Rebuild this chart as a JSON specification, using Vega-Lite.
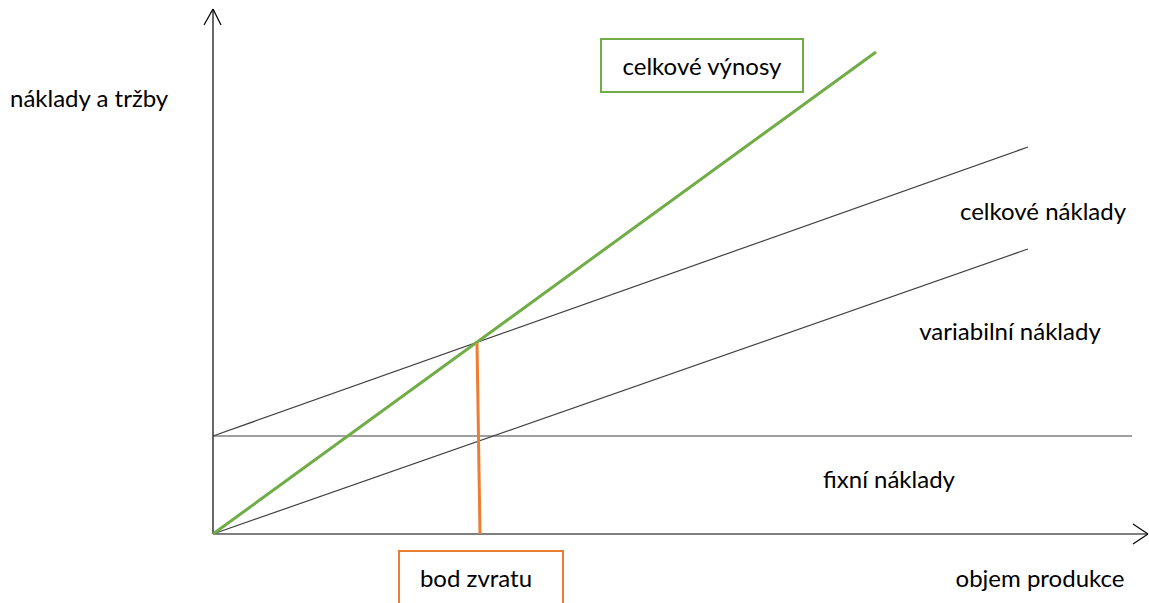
{
  "$schema": "https://vega.github.io/schema/vega-lite/v6.json",
  "width": 1149,
  "height": 603,
  "padding": 0,
  "autosize": {"type": "fit", "contains": "padding"},
  "background": "white",
  "config": {"view": {"stroke": null}},
  "datasets": {
    "segments": [
      {"kind": "axis", "x": 0, "y": 0, "x2": 0, "y2": 525},
      {"kind": "axis", "x": -9, "y": 509, "x2": 0, "y2": 525},
      {"kind": "axis", "x": 8, "y": 509, "x2": 0, "y2": 525},
      {"kind": "axis", "x": 0, "y": 0, "x2": 935, "y2": 0},
      {"kind": "axis", "x": 920, "y": 10, "x2": 935, "y2": 0},
      {"kind": "axis", "x": 920, "y": -10, "x2": 935, "y2": 0},
      {"kind": "cost", "x": 0, "y": 98, "x2": 919, "y2": 98},
      {"kind": "cost", "x": 0, "y": 0, "x2": 815, "y2": 285},
      {"kind": "cost", "x": 0, "y": 98, "x2": 815, "y2": 387},
      {"kind": "revenue", "x": 0, "y": 0, "x2": 663, "y2": 482},
      {"kind": "bep", "x": 264, "y": 191, "x2": 267, "y2": 0}
    ],
    "boxes": [
      {"kind": "revenue", "x": 388, "x2": 590, "y": 495, "y2": 442},
      {"kind": "bep", "x": 186, "x2": 350, "y": -17, "y2": -90}
    ],
    "labels": [
      {"text": "náklady a tržby", "x": -203, "y": 434, "anchor": "left"},
      {"text": "celkové výnosy", "x": 489, "y": 466, "anchor": "center"},
      {"text": "celkové náklady", "x": 830, "y": 321, "anchor": "center"},
      {"text": "variabilní náklady", "x": 797, "y": 201, "anchor": "center"},
      {"text": "fixní náklady", "x": 676, "y": 53, "anchor": "center"},
      {"text": "bod zvratu", "x": 263, "y": -46, "anchor": "center"},
      {"text": "objem produkce", "x": 827, "y": -46, "anchor": "center"}
    ]
  },
  "layer": [
    {
      "data": {"name": "boxes"},
      "mark": {"type": "rect", "fill": "white", "strokeWidth": 2, "clip": true},
      "encoding": {
        "x": {"field": "x", "type": "quantitative", "scale": {"domain": [-213, 936], "nice": false, "zero": false}, "axis": null},
        "x2": {"field": "x2"},
        "y": {"field": "y", "type": "quantitative", "scale": {"domain": [-69, 534], "nice": false, "zero": false}, "axis": null},
        "y2": {"field": "y2"},
        "stroke": {"field": "kind", "type": "nominal", "scale": {"domain": ["axis", "cost", "revenue", "bep"], "range": ["#000000", "#404040", "#70AD47", "#ED7D31"]}, "legend": null}
      }
    },
    {
      "data": {"name": "segments"},
      "transform": [{"filter": "datum.kind === 'axis' || datum.kind === 'cost'"}],
      "mark": {"type": "rule", "strokeWidth": 1.2},
      "encoding": {
        "x": {"field": "x", "type": "quantitative", "scale": {"domain": [-213, 936], "nice": false, "zero": false}, "axis": null},
        "x2": {"field": "x2"},
        "y": {"field": "y", "type": "quantitative", "scale": {"domain": [-69, 534], "nice": false, "zero": false}, "axis": null},
        "y2": {"field": "y2"},
        "stroke": {"field": "kind", "type": "nominal", "scale": {"domain": ["axis", "cost", "revenue", "bep"], "range": ["#000000", "#404040", "#70AD47", "#ED7D31"]}, "legend": null}
      }
    },
    {
      "data": {"name": "segments"},
      "transform": [{"filter": "datum.kind === 'revenue' || datum.kind === 'bep'"}],
      "mark": {"type": "rule", "strokeWidth": 3},
      "encoding": {
        "x": {"field": "x", "type": "quantitative", "scale": {"domain": [-213, 936], "nice": false, "zero": false}, "axis": null},
        "x2": {"field": "x2"},
        "y": {"field": "y", "type": "quantitative", "scale": {"domain": [-69, 534], "nice": false, "zero": false}, "axis": null},
        "y2": {"field": "y2"},
        "stroke": {"field": "kind", "type": "nominal", "scale": {"domain": ["axis", "cost", "revenue", "bep"], "range": ["#000000", "#404040", "#70AD47", "#ED7D31"]}, "legend": null}
      }
    },
    {
      "data": {"name": "labels"},
      "transform": [{"filter": "datum.anchor === 'center'"}],
      "mark": {"type": "text", "font": "Lato", "fontSize": 24, "color": "#000000", "align": "center", "baseline": "middle"},
      "encoding": {
        "x": {"field": "x", "type": "quantitative", "scale": {"domain": [-213, 936], "nice": false, "zero": false}, "axis": null},
        "y": {"field": "y", "type": "quantitative", "scale": {"domain": [-69, 534], "nice": false, "zero": false}, "axis": null},
        "text": {"field": "text"}
      }
    },
    {
      "data": {"name": "labels"},
      "transform": [{"filter": "datum.anchor === 'left'"}],
      "mark": {"type": "text", "font": "Lato", "fontSize": 24, "color": "#000000", "align": "left", "baseline": "middle"},
      "encoding": {
        "x": {"field": "x", "type": "quantitative", "scale": {"domain": [-213, 936], "nice": false, "zero": false}, "axis": null},
        "y": {"field": "y", "type": "quantitative", "scale": {"domain": [-69, 534], "nice": false, "zero": false}, "axis": null},
        "text": {"field": "text"}
      }
    }
  ]
}
